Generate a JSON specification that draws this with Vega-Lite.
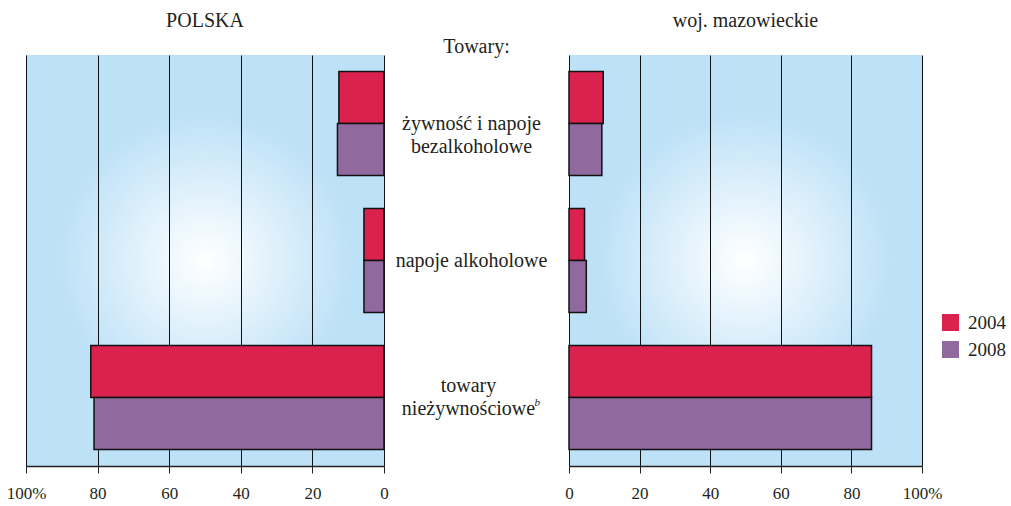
{
  "$schema": "https://vega.github.io/schema/vega-lite/v6.json",
  "padding": {"left": 6, "top": 11, "right": 0, "bottom": 0},
  "bounds": "flush",
  "background": "#ffffff",
  "config": {
    "font": "Liberation Serif",
    "view": {"stroke": null},
    "axis": {
      "domainColor": "#222222",
      "domainWidth": 1.5,
      "tickColor": "#222222",
      "tickSize": 7,
      "gridColor": "#111111",
      "gridWidth": 1,
      "labelFont": "Liberation Serif",
      "labelFontSize": 17,
      "labelColor": "#231f20",
      "labelPadding": 12,
      "labelFlush": false
    },
    "title": {"font": "Liberation Serif", "fontSize": 20, "fontWeight": "normal", "color": "#231f20", "anchor": "middle"},
    "text": {"font": "Liberation Serif", "color": "#231f20"},
    "legend": {"labelFont": "Liberation Serif"}
  },
  "data": {
    "values": [
      {"towar": "żywność i napoje\nbezalkoholowe", "region": "POLSKA", "rok": "2004", "wartosc": 12.6},
      {"towar": "żywność i napoje\nbezalkoholowe", "region": "POLSKA", "rok": "2008", "wartosc": 13.0},
      {"towar": "napoje alkoholowe", "region": "POLSKA", "rok": "2004", "wartosc": 5.6},
      {"towar": "napoje alkoholowe", "region": "POLSKA", "rok": "2008", "wartosc": 5.6},
      {"towar": "towary\nnieżywnościowe", "region": "POLSKA", "rok": "2004", "wartosc": 81.9},
      {"towar": "towary\nnieżywnościowe", "region": "POLSKA", "rok": "2008", "wartosc": 81.0},
      {"towar": "żywność i napoje\nbezalkoholowe", "region": "woj. mazowieckie", "rok": "2004", "wartosc": 9.7},
      {"towar": "żywność i napoje\nbezalkoholowe", "region": "woj. mazowieckie", "rok": "2008", "wartosc": 9.3},
      {"towar": "napoje alkoholowe", "region": "woj. mazowieckie", "rok": "2004", "wartosc": 4.4},
      {"towar": "napoje alkoholowe", "region": "woj. mazowieckie", "rok": "2008", "wartosc": 4.9},
      {"towar": "towary\nnieżywnościowe", "region": "woj. mazowieckie", "rok": "2004", "wartosc": 85.7},
      {"towar": "towary\nnieżywnościowe", "region": "woj. mazowieckie", "rok": "2008", "wartosc": 85.7}
    ]
  },
  "spacing": 0,
  "hconcat": [
    {
      "width": 358,
      "height": 411,
      "view": {
        "stroke": null,
        "fill": {
          "gradient": "radial",
          "x1": 0.5, "y1": 0.5, "r1": 0,
          "x2": 0.5, "y2": 0.5, "r2": 0.5,
          "stops": [
            {"offset": 0, "color": "#ffffff"},
            {"offset": 0.72, "color": "#bde1f7"},
            {"offset": 1, "color": "#bde1f7"}
          ]
        }
      },
      "title": {"text": "POLSKA", "offset": 24},
      "transform": [{"filter": "datum.region === 'POLSKA'"}],
      "mark": {"type": "bar", "stroke": "#111111", "strokeWidth": 1.5},
      "encoding": {
        "y": {
          "field": "towar", "type": "nominal",
          "sort": ["żywność i napoje\nbezalkoholowe", "napoje alkoholowe", "towary\nnieżywnościowe"],
          "axis": null,
          "scale": {"paddingInner": 0.24, "paddingOuter": 0.12}
        },
        "yOffset": {
          "field": "rok", "type": "nominal", "sort": ["2004", "2008"],
          "scale": {"paddingInner": 0, "paddingOuter": 0}
        },
        "x": {
          "field": "wartosc", "type": "quantitative",
          "scale": {"domain": [0, 100], "reverse": true},
          "axis": {"values": [0, 20, 40, 60, 80, 100], "labelExpr": "datum.value === 100 ? '100%' : datum.label", "title": null, "grid": true}
        },
        "color": {
          "field": "rok", "type": "nominal",
          "scale": {"domain": ["2004", "2008"], "range": ["#db214d", "#906a9f"]},
          "legend": {
            "orient": "none", "legendX": 915, "legendY": 258, "title": null,
            "symbolType": "square", "symbolSize": 289, "symbolStrokeWidth": 0, "symbolOpacity": 1,
            "labelFontSize": 19, "labelColor": "#231f20",
            "labelOffset": 8, "rowPadding": 7, "padding": 0
          }
        }
      }
    },
    {
      "width": 185,
      "height": 411,
      "title": {"text": "Towary:", "offset": -2},
      "transform": [{"filter": "datum.region === 'POLSKA' && datum.rok === '2004'"}],
      "layer": [
        {
          "transform": [{"filter": "indexof(datum.towar, 'towary') !== 0"}],
          "mark": {"type": "text", "fontSize": 20, "lineBreak": "\n", "lineHeight": 23, "baseline": "middle", "align": "center", "dx": -5},
          "encoding": {
            "y": {
              "field": "towar", "type": "nominal",
              "sort": ["żywność i napoje\nbezalkoholowe", "napoje alkoholowe", "towary\nnieżywnościowe"],
              "axis": null,
              "scale": {"paddingInner": 0.24, "paddingOuter": 0.12}
            },
            "text": {"field": "towar"}
          }
        },
        {
          "transform": [{"filter": "indexof(datum.towar, 'towary') === 0"}],
          "mark": {"type": "text", "fontSize": 20, "lineBreak": "\n", "lineHeight": 23, "baseline": "middle", "align": "center", "dx": -8, "dy": -12},
          "encoding": {
            "y": {
              "field": "towar", "type": "nominal",
              "sort": ["żywność i napoje\nbezalkoholowe", "napoje alkoholowe", "towary\nnieżywnościowe"],
              "axis": null,
              "scale": {"paddingInner": 0.24, "paddingOuter": 0.12}
            },
            "text": {"field": "towar"}
          }
        },
        {
          "transform": [{"filter": "indexof(datum.towar, 'towary') === 0"}],
          "mark": {"type": "text", "text": "b", "fontStyle": "italic", "fontSize": 11, "align": "left", "baseline": "middle", "dx": 58, "dy": 5},
          "encoding": {
            "y": {
              "field": "towar", "type": "nominal",
              "sort": ["żywność i napoje\nbezalkoholowe", "napoje alkoholowe", "towary\nnieżywnościowe"],
              "axis": null,
              "scale": {"paddingInner": 0.24, "paddingOuter": 0.12}
            }
          }
        }
      ]
    },
    {
      "width": 353,
      "height": 411,
      "view": {
        "stroke": null,
        "fill": {
          "gradient": "radial",
          "x1": 0.5, "y1": 0.5, "r1": 0,
          "x2": 0.5, "y2": 0.5, "r2": 0.5,
          "stops": [
            {"offset": 0, "color": "#ffffff"},
            {"offset": 0.72, "color": "#bde1f7"},
            {"offset": 1, "color": "#bde1f7"}
          ]
        }
      },
      "title": {"text": "woj. mazowieckie", "offset": 24},
      "transform": [{"filter": "datum.region === 'woj. mazowieckie'"}],
      "mark": {"type": "bar", "stroke": "#111111", "strokeWidth": 1.5},
      "encoding": {
        "y": {
          "field": "towar", "type": "nominal",
          "sort": ["żywność i napoje\nbezalkoholowe", "napoje alkoholowe", "towary\nnieżywnościowe"],
          "axis": null,
          "scale": {"paddingInner": 0.24, "paddingOuter": 0.12}
        },
        "yOffset": {
          "field": "rok", "type": "nominal", "sort": ["2004", "2008"],
          "scale": {"paddingInner": 0, "paddingOuter": 0}
        },
        "x": {
          "field": "wartosc", "type": "quantitative",
          "scale": {"domain": [0, 100]},
          "axis": {"values": [0, 20, 40, 60, 80, 100], "labelExpr": "datum.value === 100 ? '100%' : datum.label", "title": null, "grid": true}
        },
        "color": {
          "field": "rok", "type": "nominal",
          "scale": {"domain": ["2004", "2008"], "range": ["#db214d", "#906a9f"]},
          "legend": {
            "orient": "none", "legendX": 915, "legendY": 258, "title": null,
            "symbolType": "square", "symbolSize": 289, "symbolStrokeWidth": 0, "symbolOpacity": 1,
            "labelFontSize": 19, "labelColor": "#231f20",
            "labelOffset": 8, "rowPadding": 7, "padding": 0
          }
        }
      }
    }
  ]
}
